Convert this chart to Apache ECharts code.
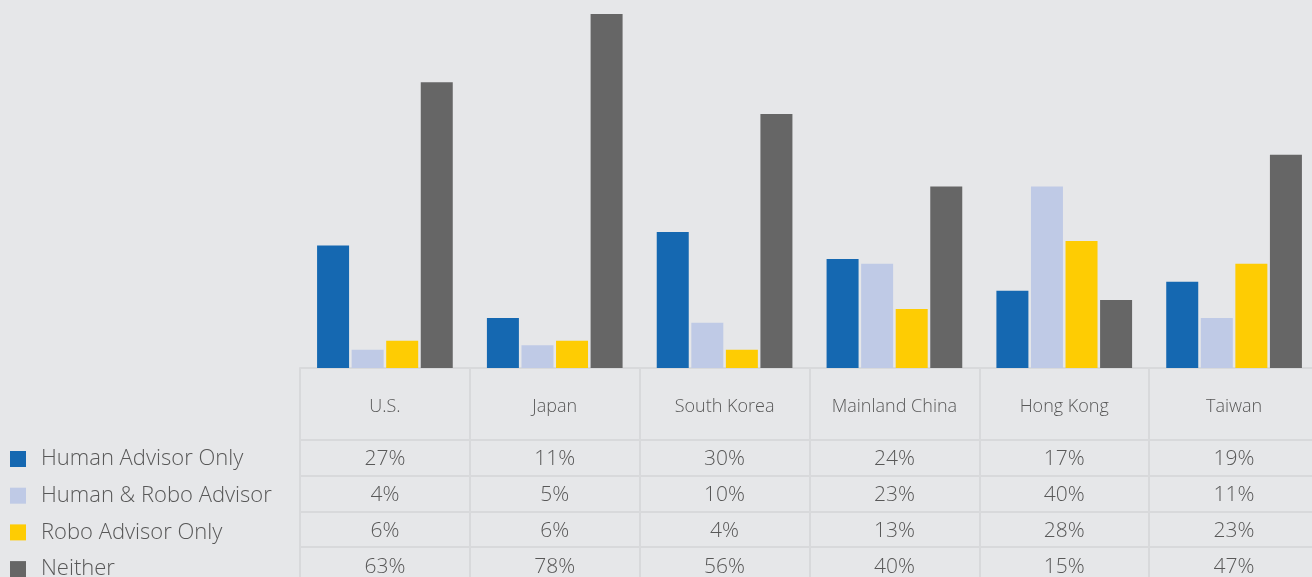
<!DOCTYPE html>
<html>
<head>
<meta charset="utf-8">
<script src="https://cdn.jsdelivr.net/npm/echarts@6/dist/echarts.min.js"></script>
<style>
  html, body { margin: 0; padding: 0; background: #e6e7e9; }
  #chart { width: 1312px; height: 577px; }
</style>
</head>
<body>
<div id="chart"></div>
<script>
// Advice preference by market: share of respondents (%)
const markets = ['U.S.', 'Japan', 'South Korea', 'Mainland China', 'Hong Kong', 'Taiwan'];
const seriesNames = ['Human Advisor Only', 'Human & Robo Advisor', 'Robo Advisor Only', 'Neither'];
const humanOnly = [27, 11, 30, 24, 17, 19];
const humanAndRobo = [4, 5, 10, 23, 40, 11];
const roboOnly = [6, 6, 4, 13, 28, 23];
const neither = [63, 78, 56, 40, 15, 47];

const seriesValues = [humanOnly, humanAndRobo, roboOnly, neither];
const colors = ['#1568b1', '#bfcae6', '#fecc03', '#666666'];

const FONT = '"Open Sans", Lato, sans-serif';
const TEXT = '#585858';
const RULE = '#d8d9db';
const HEADER_H = 72;
const ROW_H = 35.7;

// Header axis with market names, then one axis per series acting as a table row
const xAxes = [{
  type: 'category',
  data: markets,
  position: 'bottom',
  offset: 0,
  axisLine: { show: true, lineStyle: { color: RULE, width: 2 } },
  axisTick: { show: true, length: HEADER_H, lineStyle: { color: RULE, width: 2 } },
  axisLabel: { margin: 30, color: TEXT, fontFamily: FONT, fontSize: 18, fontWeight: 300 }
}];
seriesValues.forEach((vals, i) => {
  xAxes.push({
    type: 'category',
    data: markets,
    position: 'bottom',
    offset: HEADER_H + ROW_H * i,
    axisLine: { show: true, lineStyle: { color: RULE, width: 2 } },
    axisTick: { show: true, length: ROW_H + 1, lineStyle: { color: RULE, width: 2 } },
    axisLabel: {
      margin: 9,
      color: TEXT, fontFamily: FONT, fontSize: 21, fontWeight: 300,
      formatter: (v, idx) => vals[idx] + '%'
    }
  });
});

const chart = echarts.init(document.getElementById('chart'), null, { renderer: 'canvas' });
chart.setOption({
  backgroundColor: '#e6e7e9',
  animation: false,
  color: colors,
  legend: {
    orient: 'vertical',
    left: 10,
    top: 448,
    height: 160,
    padding: 0,
    itemWidth: 16,
    itemHeight: 16,
    itemGap: 14.7,
    icon: 'rect',
    textStyle: { color: TEXT, fontFamily: FONT, fontSize: 22, fontWeight: 300, lineHeight: 21, padding: [0, 0, 0, 10] },
    data: seriesNames
  },
  grid: { left: 300, right: -7, top: 5, bottom: 577 - 368, containLabel: false, outerBoundsMode: 'none' },
  xAxis: xAxes,
  yAxis: { type: 'value', min: 0, max: 80, show: false, splitLine: { show: false } },
  series: seriesValues.map((vals, i) => ({
    name: seriesNames[i],
    type: 'bar',
    data: vals,
    barWidth: 32,
    barGap: '8%',
    itemStyle: { color: colors[i] }
  }))
});
</script>
</body>
</html>
